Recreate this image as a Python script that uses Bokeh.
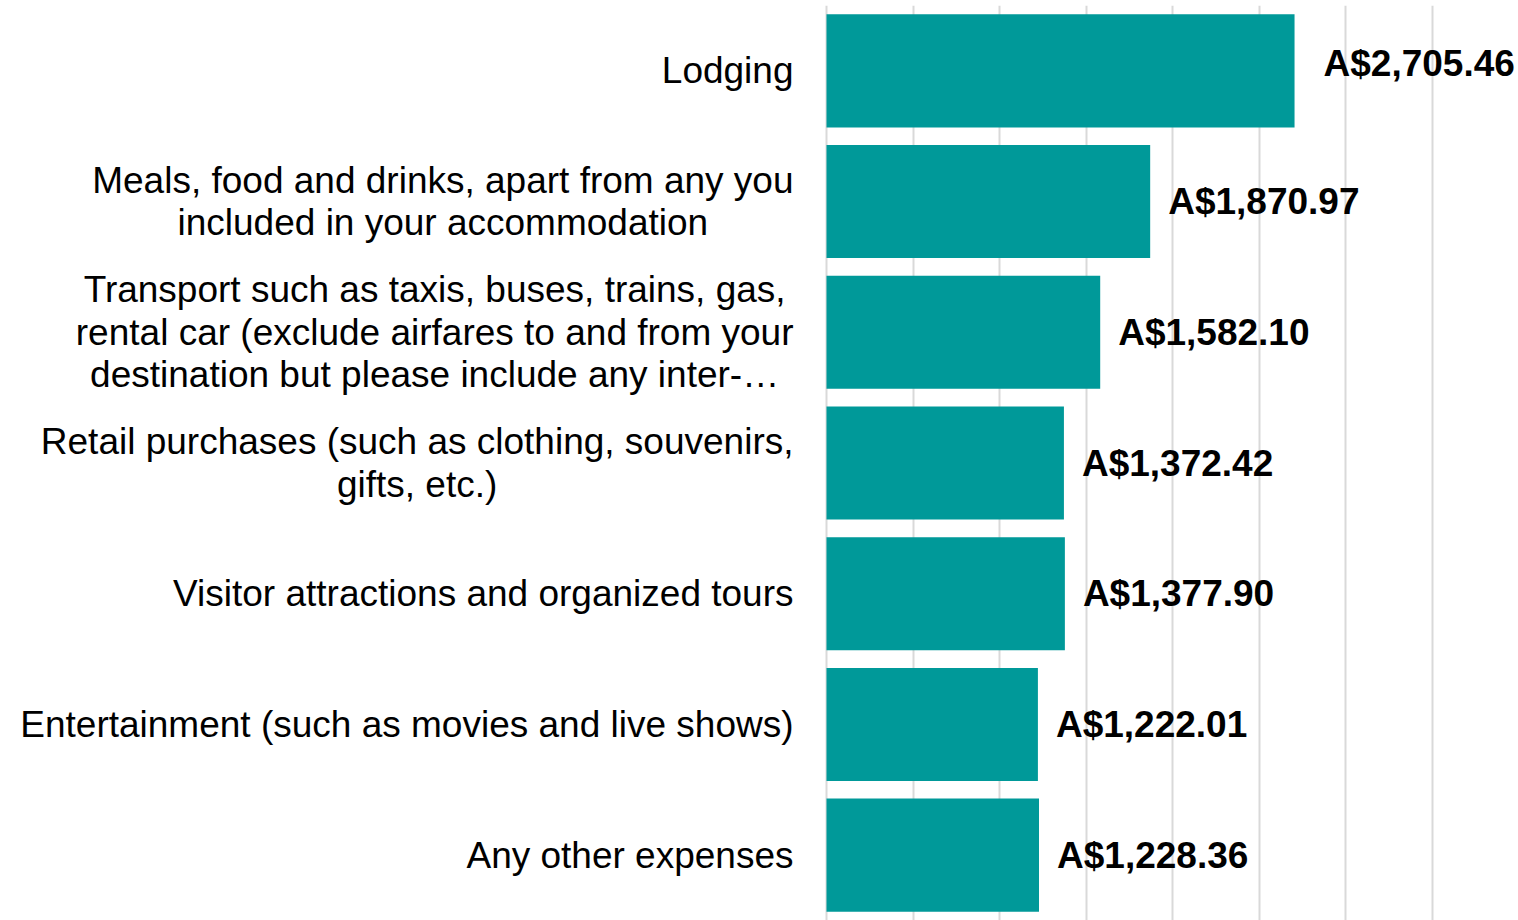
from bokeh.plotting import figure
from bokeh.models import ColumnDataSource, FactorRange, Range1d, FixedTicker, LabelSet
from bokeh.core.properties import value
from bokeh.embed import file_html
from bokeh.resources import INLINE

categories = [
    "Lodging",
    "Meals, food and drinks, apart from any you\nincluded in your accommodation",
    "Transport such as taxis, buses, trains, gas,\nrental car (exclude airfares to and from your\ndestination but please include any inter-…",
    "Retail purchases (such as clothing, souvenirs,\ngifts, etc.)",
    "Visitor attractions and organized tours",
    "Entertainment (such as movies and live shows)",
    "Any other expenses",
]
values = [2705.46, 1870.97, 1582.10, 1372.42, 1377.90, 1222.01, 1228.36]
grid_ticks = [0, 500, 1000, 1500, 2000, 2500, 3000, 3500, 4000]

value_labels = [f"A${v:,.2f}" for v in values]
label_dx = [29, 18, 18, 18, 18, 18, 18]
label_dy = [7, 0, 0, 0, 0, 0, 0]
zeros = [0] * len(categories)

source = ColumnDataSource(dict(cat=categories, val=values, lab=value_labels,
                               dx=label_dx, dy=label_dy, zero=zeros))

# plot area: category text occupies 826px left of the value axis zero, 692px for 0..4000
x_max = 4000
x_min = -x_max * 826 / 692

p = figure(
    width=1518, height=920,
    x_range=Range1d(x_min, x_max),
    y_range=FactorRange(*reversed(categories)),
    output_backend="svg", toolbar_location=None,
    min_border_left=0, min_border_right=0, min_border_top=5, min_border_bottom=0,
)
p.outline_line_color = None
p.background_fill_color = "white"
p.border_fill_color = "white"

p.xaxis.visible = False
p.yaxis.visible = False
p.xgrid.ticker = FixedTicker(ticks=grid_ticks)
p.xgrid.grid_line_color = "#d9d9d9"
p.xgrid.grid_line_width = 2
p.ygrid.grid_line_color = None

p.hbar(y="cat", right="val", left=0, height=0.865, source=source,
       fill_color="#009999", line_color=None)

# category labels: right-anchored block, centred lines
p.text(x="zero", y="cat", text="cat", source=source,
       x_offset=-33, anchor="center_right", text_align="center",
       text_baseline="middle",
       text_font=value("Liberation Sans"), text_font_size="37px",
       text_color="black", text_line_height=1.04)

labels = LabelSet(x="val", y="cat", text="lab", x_offset="dx", y_offset="dy", source=source,
                  text_baseline="middle", text_align="left",
                  text_font=value("Liberation Sans"), text_font_style="bold",
                  text_font_size="37px", text_color="black")
p.add_layout(labels)

open("out.html", "w").write(file_html(p, INLINE))
